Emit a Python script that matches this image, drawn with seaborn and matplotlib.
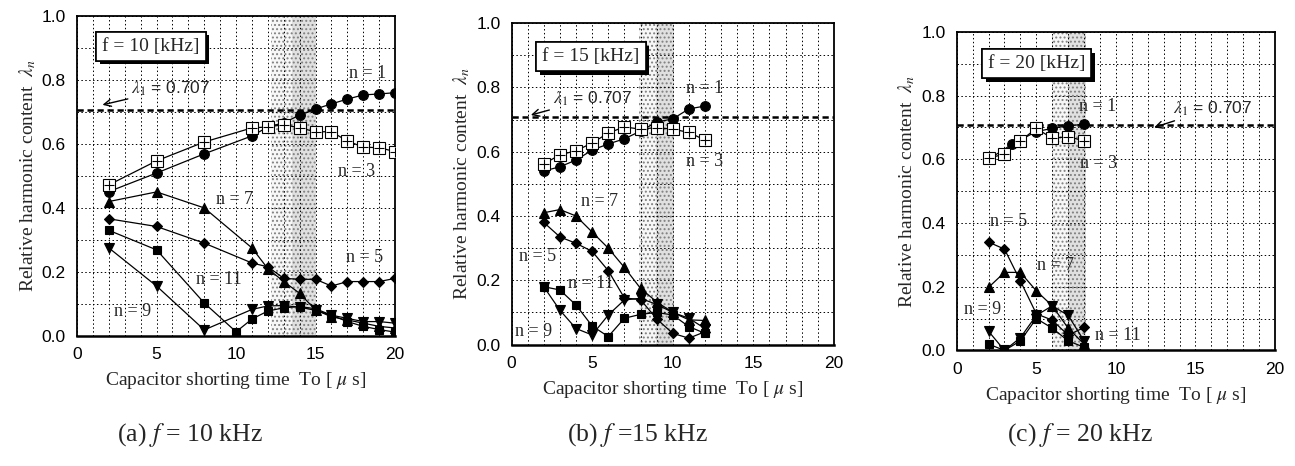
import numpy as np
import matplotlib
matplotlib.use('Agg')
import matplotlib.pyplot as plt
import matplotlib.patheffects as pe
import seaborn as sns

sns.set_style('white')
plt.rcParams['font.family'] = ['Liberation Serif', 'DejaVu Serif']
plt.rcParams['mathtext.fontset'] = 'stix'
plt.rcParams['hatch.linewidth'] = 0.9

# ---- (a) f = 10 kHz ----
a_t = [2, 5, 8, 11, 12, 13, 14, 15, 16, 17, 18, 19, 20]
a_n1 = [0.451, 0.509, 0.569, 0.625, 0.653, 0.666, 0.69, 0.709, 0.725, 0.74, 0.753, 0.756, 0.76]
a_n3 = [0.472, 0.547, 0.606, 0.65, 0.653, 0.66, 0.65, 0.638, 0.638, 0.609, 0.59, 0.588, 0.576]
a_n5 = [0.366, 0.342, 0.29, 0.228, 0.216, 0.18, 0.177, 0.177, 0.156, 0.17, 0.17, 0.17, 0.18]
a_n7 = [0.42, 0.45, 0.40, 0.275, 0.21, 0.17, 0.133, 0.081, 0.06, 0.05, 0.04, 0.03, 0.025]
a_n9 = [0.275, 0.156, 0.019, 0.083, 0.094, 0.095, 0.09, 0.08, 0.065, 0.055, 0.045, 0.045, 0.04]
a_t11 = [2, 5, 8, 10, 11, 12, 13, 14, 15, 16, 17, 18, 19, 20]
a_n11 = [0.33, 0.269, 0.103, 0.013, 0.053, 0.078, 0.088, 0.092, 0.085, 0.065, 0.045, 0.03, 0.02, 0.012]

# ---- (b) f = 15 kHz ----
b_t = [2, 3, 4, 5, 6, 7, 8, 9, 10, 11, 12]
b_n1 = [0.54, 0.553, 0.574, 0.605, 0.624, 0.64, 0.664, 0.692, 0.702, 0.733, 0.742]
b_n3 = [0.562, 0.59, 0.603, 0.627, 0.658, 0.677, 0.67, 0.675, 0.67, 0.66, 0.636]
b_n5 = [0.38, 0.335, 0.315, 0.29, 0.23, 0.145, 0.14, 0.08, 0.035, 0.02, 0.04]
b_n7 = [0.41, 0.42, 0.40, 0.35, 0.30, 0.24, 0.175, 0.133, 0.10, 0.077, 0.075]
b_n9 = [0.18, 0.107, 0.05, 0.03, 0.092, 0.139, 0.144, 0.125, 0.10, 0.082, 0.05]
b_n11 = [0.18, 0.17, 0.123, 0.058, 0.025, 0.082, 0.094, 0.10, 0.092, 0.056, 0.035]

# ---- (c) f = 20 kHz ----
c_t = [2, 3, 4, 5, 6, 7, 8]
c_t1 = [2, 3.5, 5, 6, 7, 8]
c_n1 = [0.60, 0.648, 0.687, 0.697, 0.705, 0.71]
c_n3 = [0.603, 0.617, 0.658, 0.697, 0.666, 0.671, 0.658]
c_n5 = [0.34, 0.318, 0.218, 0.115, 0.095, 0.048, 0.072]
c_n7 = [0.198, 0.245, 0.245, 0.187, 0.14, 0.07, 0.02]
c_n9 = [0.06, 0.0, 0.04, 0.11, 0.14, 0.11, 0.03]
c_n11 = [0.02, 0.0, 0.03, 0.10, 0.07, 0.03, 0.01]

lambda1 = 0.707
x_ticks = [0, 5, 10, 15, 20]
y_ticks = [0.0, 0.2, 0.4, 0.6, 0.8, 1.0]
y_ticklabels = ['0.0', '0.2', '0.4', '0.6', '0.8', '1.0']
freq_labels = ['f = 10 [kHz]', 'f = 15 [kHz]', 'f = 20 [kHz]']
captions = ['(a) $f$ = 10 kHz', '(b) $f$ =15 kHz', '(c) $f$ = 20 kHz']

panels = [
    dict(series=[(1, a_t, a_n1), (3, a_t, a_n3), (5, a_t, a_n5), (7, a_t, a_n7),
                 (9, a_t, a_n9), (11, a_t11, a_n11)],
         bands=[(12.2, 13.5, '0.97'), (13.5, 15.0, '0.88')],
         labels={1: (18.3, 0.82), 3: (17.6, 0.513), 5: (18.1, 0.244), 7: (9.9, 0.425),
                 9: (3.5, 0.076), 11: (8.9, 0.175)},
         lam_text=(3.4, 0.772), lam_tip=(1.6, 0.722), box=(4.65, 0.905)),
    dict(series=[(1, b_t, b_n1), (3, b_t, b_n3), (5, b_t, b_n5), (7, b_t, b_n7),
                 (9, b_t, b_n9), (11, b_t, b_n11)],
         bands=[(7.9, 8.95, '0.97'), (8.95, 10.1, '0.88')],
         labels={1: (12.0, 0.797), 3: (12.0, 0.57), 5: (1.6, 0.273), 7: (5.44, 0.445),
                 9: (1.36, 0.042), 11: (4.93, 0.19)},
         lam_text=(2.55, 0.766), lam_tip=(1.2, 0.714), box=(4.93, 0.895)),
    dict(series=[(1, c_t1, c_n1), (3, c_t, c_n3), (5, c_t, c_n5), (7, c_t, c_n7),
                 (9, c_t, c_n9), (11, c_t, c_n11)],
         bands=[(6.0, 7.0, '0.97'), (7.0, 8.1, '0.88')],
         labels={1: (8.85, 0.765), 3: (8.9, 0.587), 5: (3.25, 0.404), 7: (6.2, 0.268),
                 9: (1.65, 0.127), 11: (10.15, 0.048)},
         lam_text=(13.6, 0.76), lam_tip=(12.4, 0.70), box=(5.03, 0.90)),
]

marker_style = {
    1: dict(marker='o', markersize=7, markerfacecolor='k'),
    3: dict(marker='s', markersize=8, markerfacecolor='white'),
    5: dict(marker='D', markersize=5.5, markerfacecolor='k'),
    7: dict(marker='^', markersize=6.5, markerfacecolor='k'),
    9: dict(marker='v', markersize=6.5, markerfacecolor='k'),
    11: dict(marker='s', markersize=5.5, markerfacecolor='k'),
}

rects = [[0.0595, 0.279, 0.2456, 0.687],
         [0.395, 0.2605, 0.249, 0.690],
         [0.7388, 0.248, 0.2458, 0.6836]]
cap_x = [0.147, 0.492, 0.834]

fig = plt.figure(figsize=(12.95, 4.66), dpi=100)

for i, p in enumerate(panels):
    ax = fig.add_axes(rects[i])

    # stippled regions
    for lo, hi, fc in p['bands']:
        ax.axvspan(lo, hi, facecolor=fc, edgecolor='0.5', hatch='....', lw=0, zorder=0.5)

    ax.set_xlim(0, 20)
    ax.set_ylim(0, 1.0)
    ax.set_xticks(x_ticks)
    ax.set_xticks(np.arange(0, 21, 1), minor=True)
    ax.set_yticks(y_ticks)
    ax.set_yticks(np.arange(0, 1.01, 0.1), minor=True)
    ax.set_yticklabels(y_ticklabels)
    ax.grid(which='both', color='k', lw=0.7, ls=(0, (1.5, 2.5)))
    ax.set_axisbelow(True)

    ax.axhline(lambda1, color='k', lw=1.8, dashes=(2.5, 1.5), zorder=2)

    for n, xs, ys in p['series']:
        sns.lineplot(x=xs, y=ys, ax=ax, color='k', lw=0.9, markeredgecolor='k',
                     markeredgewidth=0.8, estimator=None, sort=False, zorder=3,
                     **marker_style[n])
        if n == 3:
            sns.scatterplot(x=xs, y=ys, ax=ax, marker='+', s=45, color='k',
                            linewidth=0.8, zorder=4)
        lx, ly = p['labels'][n]
        ax.text(lx, ly, f'n = {n}', fontsize=13, ha='center', va='center', zorder=5)

    ax.annotate(r'$\lambda_{1}$ = 0.707', xy=p['lam_tip'], xytext=p['lam_text'],
                fontsize=12.5, family='Liberation Sans', ha='left', va='center',
                arrowprops=dict(arrowstyle='->', color='k', lw=1.0,
                                shrinkA=0, shrinkB=0), zorder=5)

    bx, by = p['box']
    t = ax.text(bx, by, freq_labels[i], fontsize=14, ha='center', va='center',
                zorder=6, bbox=dict(boxstyle='square,pad=0.3', fc='white',
                                    ec='k', lw=1.2))
    t.get_bbox_patch().set_path_effects(
        [pe.withSimplePatchShadow(offset=(2.5, -2.5), shadow_rgbFace='k', alpha=1.0),
         pe.Normal()])

    for s in ax.spines.values():
        s.set_color('k')
        s.set_linewidth(1.3)
    ax.spines['bottom'].set_linewidth(1.8)

    ax.tick_params(which='major', direction='in', length=3, labelsize=12.5, pad=8,
                   colors='k')
    ax.tick_params(which='minor', length=0)
    for lbl in ax.get_xticklabels() + ax.get_yticklabels():
        lbl.set_fontfamily('Liberation Sans')

    ax.set_xlabel(r'Capacitor shorting time  To [ $\mu$ s]', fontsize=14, labelpad=6)
    ax.set_ylabel(r'Relative harmonic content  $\lambda_{n}$', fontsize=14,
                  labelpad=3)

    fig.text(cap_x[i], 0.067, captions[i], fontsize=18.5, ha='center', va='center')

fig.savefig('out.png', dpi=100)
